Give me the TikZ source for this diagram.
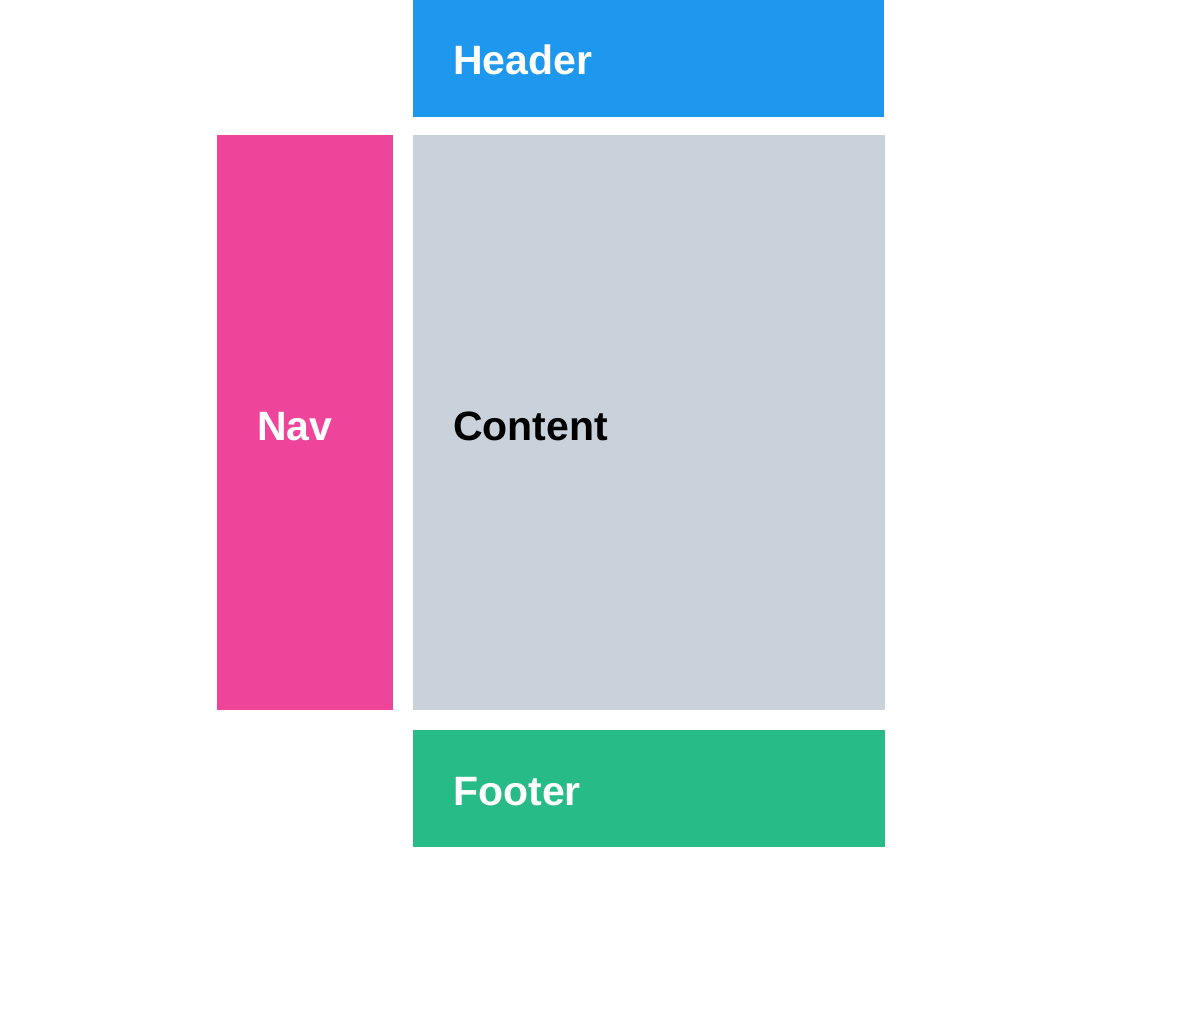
\documentclass[tikz,border=0pt]{standalone}
\usepackage{fontspec}
\setmainfont{Liberation Sans}
\definecolor{hdr}{HTML}{1D98EE}
\definecolor{navc}{HTML}{EE4499}
\definecolor{cnt}{HTML}{C9D1DB}
\definecolor{ftr}{HTML}{26BB87}
\begin{document}
\begin{tikzpicture}[x=1pt,y=-1pt,
  area/.style={inner sep=0pt,outer sep=0pt},
  lbl/.style={anchor=base west,inner sep=0pt,font=\fontsize{41}{48}\selectfont\bfseries}]
\useasboundingbox (0,0) rectangle (1200,1024);
\fill[white] (0,0) rectangle (1200,1024);
\fill[hdr] (413,0) rectangle (884,117);
\fill[navc] (217,135) rectangle (393,710);
\fill[cnt] (413,135) rectangle (885,710);
\fill[ftr] (413,730) rectangle (885,847);
\node[lbl,text=white] (header) at (453,75) {Header};
\node[lbl,text=white] (nav) at (257,440) {Nav};
\node[lbl,text=black] (content) at (453,440) {Content};
\node[lbl,text=white] (footer) at (453,805) {Footer};
\end{tikzpicture}
\end{document}
